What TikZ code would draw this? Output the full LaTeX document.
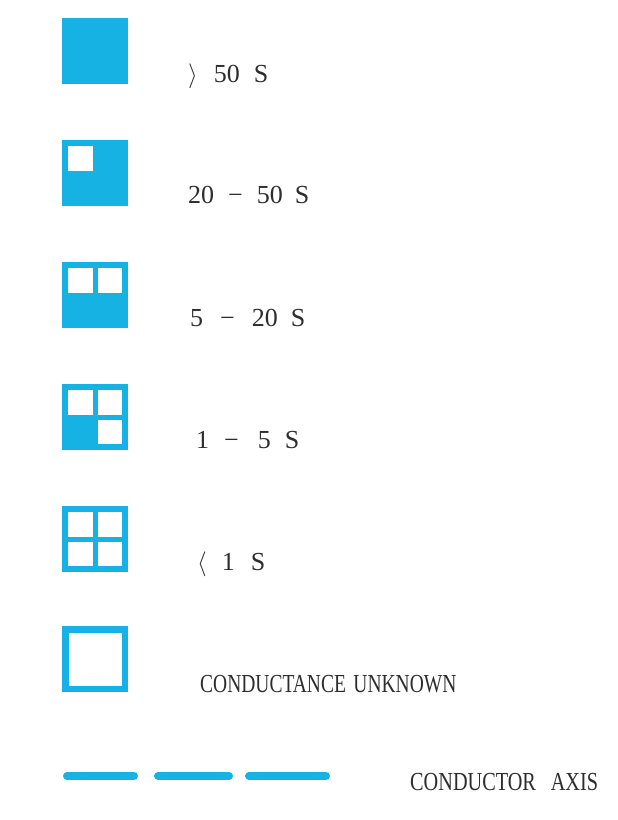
\documentclass[tikz,border=0pt]{standalone}
\usepackage{fontspec}
\setmainfont{Liberation Serif}
\usetikzlibrary{positioning}
\definecolor{legCyan}{RGB}{22,178,228}
\definecolor{legText}{RGB}{45,45,45}
\tikzset{
    cond/.style={fill=legCyan, draw=none},
    hole/.style={fill=white, draw=none},
    axisline/.style={legCyan, line width=8pt, line cap=round},
    label/.style={font=\fontsize{26}{26}\selectfont, text=legText, inner sep=0pt, anchor=base west}
}
\newcommand{\sq}[1]{\fill[cond] (62,#1) rectangle ++(66,66);}
\newcommand{\hl}[2]{\fill[hole] (#1,#2) rectangle ++(24.5,24.5);}

\begin{document}
\begin{tikzpicture}[x=1pt, y=-1pt]
  \useasboundingbox (0,0) rectangle (618,820);

  % > 50 S
  \sq{18}
  % 20 - 50 S
  \sq{140}
  \hl{68}{146}
  % 5 - 20 S
  \sq{262}
  \hl{68}{268} \hl{97.5}{268}
  % 1 - 5 S
  \sq{384}
  \hl{68}{390} \hl{97.5}{390} \hl{97.5}{419.5}
  % < 1 S
  \sq{506}
  \foreach \dx/\dy in {68/512, 97.5/512, 68/541.5, 97.5/541.5}
    \hl{\dx}{\dy}
  % unknown
  \sq{626}
  \fill[hole] (68.5,632.5) rectangle (121.5,685.5);

  % conductor axis
  \draw[axisline] (67,776) -- (134,776);
  \draw[axisline] (158,776) -- (229,776);
  \draw[axisline] (249,776) -- (326,776);

  % Labels
  \node[label] (gt50) at (188,82) {$\rangle$\hspace{16pt}50\hspace{14pt}S};
  \node[label] (r2050) at (188,203) {20\hspace{14pt}−\hspace{14pt}50\hspace{12pt}S};
  \node[label] (r520) at (190,326) {5\hspace{17pt}−\hspace{17pt}20\hspace{13pt}S};
  \node[label] (r15) at (196,448) {1\hspace{15pt}−\hspace{19pt}5\hspace{14pt}S};
  \node[label] (lt1) at (197,570) {$\langle$\hspace{15pt}1\hspace{16pt}S};
  \node[label] (unknown) at (200,692) {\scalebox{0.75}[1]{CONDUCTANCE\hspace{10pt}UNKNOWN}};
  \node[label] (axis) at (410,790) {\scalebox{0.78}[1]{CONDUCTOR\hspace{19pt}AXIS}};
\end{tikzpicture}
\end{document}
